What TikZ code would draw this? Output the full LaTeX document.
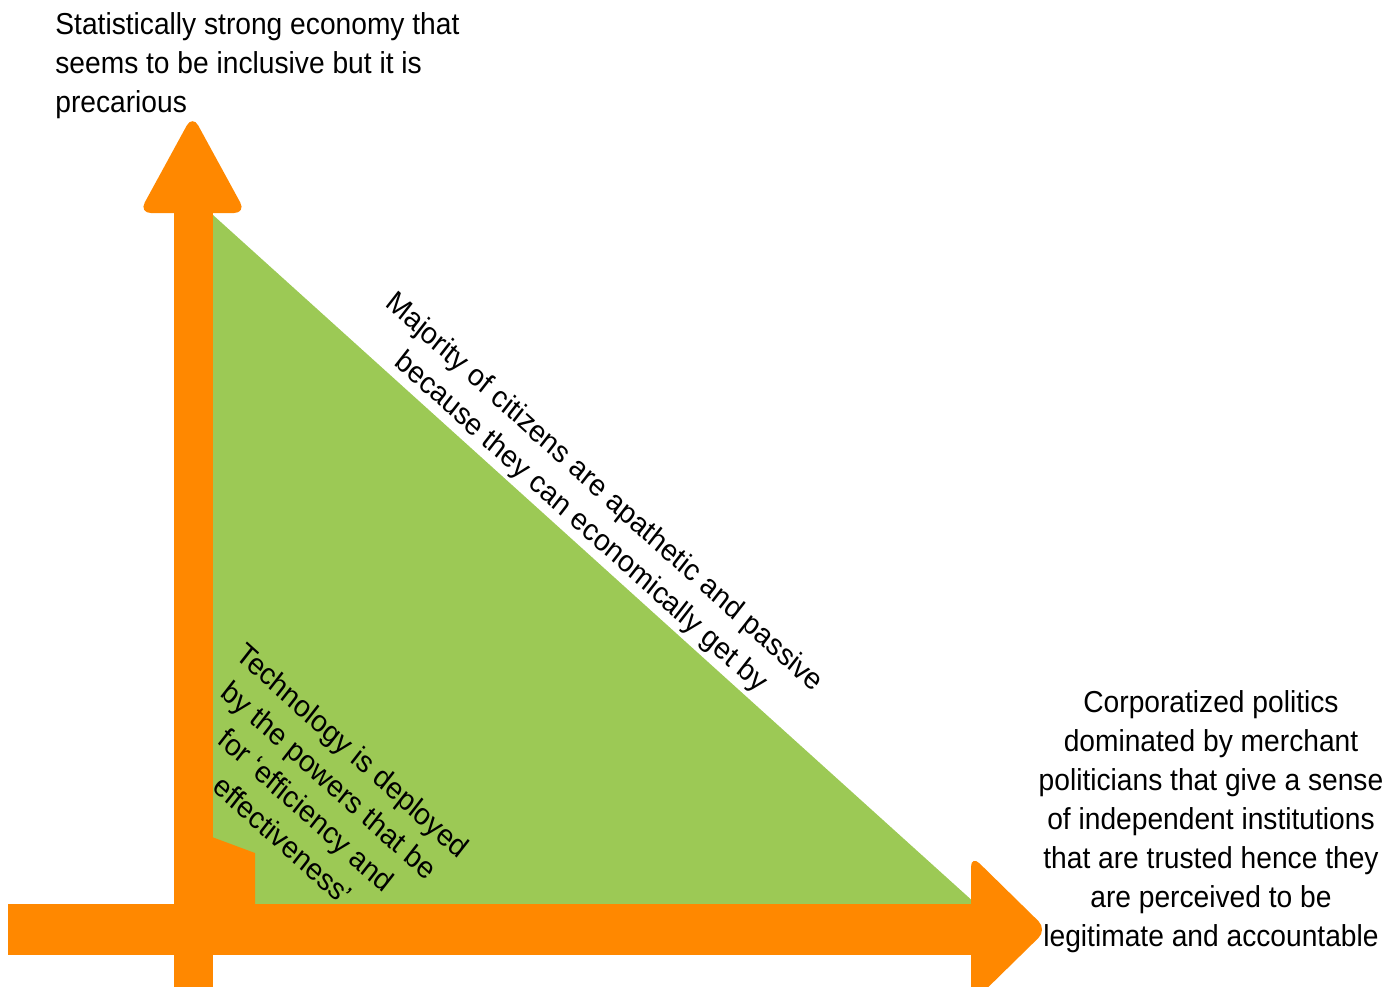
\documentclass[tikz,border=0pt]{standalone}
\usepackage{fontspec}
\setmainfont{Liberation Sans}
\definecolor{axisorange}{HTML}{FF8800}
\definecolor{fieldgreen}{HTML}{9CC955}
\tikzset{
  labeltext/.style={font=\fontsize{15.15}{19.5}\selectfont, inner sep=0pt, text=black},
  axisfill/.style={fill=axisorange, draw=none},
  headfill/.style={fill=axisorange, draw=none, rounded corners=6},
}
\begin{document}
\begin{tikzpicture}[x=0.5pt,y=-0.5pt]
\useasboundingbox (0,0) rectangle (1400,986);

% green field between the axes
\fill[fieldgreen] (213,215) -- (213,904) -- (976,904) -- cycle;

% vertical axis: shaft and head
\path[axisfill] (174,995) rectangle (213,205);
\path[headfill] (139,213) -- (192.5,115) -- (246,213) -- cycle;

% horizontal axis: shaft and head
\path[axisfill] (8,904) rectangle (980,955);
\path[headfill] (971,855) -- (1047,929.5) -- (971,1004) -- cycle;

% small step in the corner of the field
\path[axisfill] (212,837) -- (255,853) -- (255,905) -- (212,905) -- cycle;

% labels, set in slightly condensed type
\begin{scope}[xscale=0.93, x=0.53763pt, transform shape]
  \node[labeltext, align=left, anchor=west] (economy) at (55,66)
    {Statistically strong economy that\\seems to be inclusive but it is\\precarious};
  \node[labeltext, align=center] (politics) at (1211,822)
    {Corporatized politics\\dominated by merchant\\politicians that give a sense\\of independent institutions\\that are trusted hence they\\are perceived to be\\legitimate and accountable};
  \node[labeltext, align=center, rotate=-40] (citizens) at (592,508)
    {Majority of citizens are apathetic and passive\\because they can economically get by};
  \node[labeltext, align=center, rotate=-40] (technology) at (318,795)
    {Technology is deployed\\by the powers that be\\for ‘efficiency and\\effectiveness’};
\end{scope}
\end{tikzpicture}
\end{document}
